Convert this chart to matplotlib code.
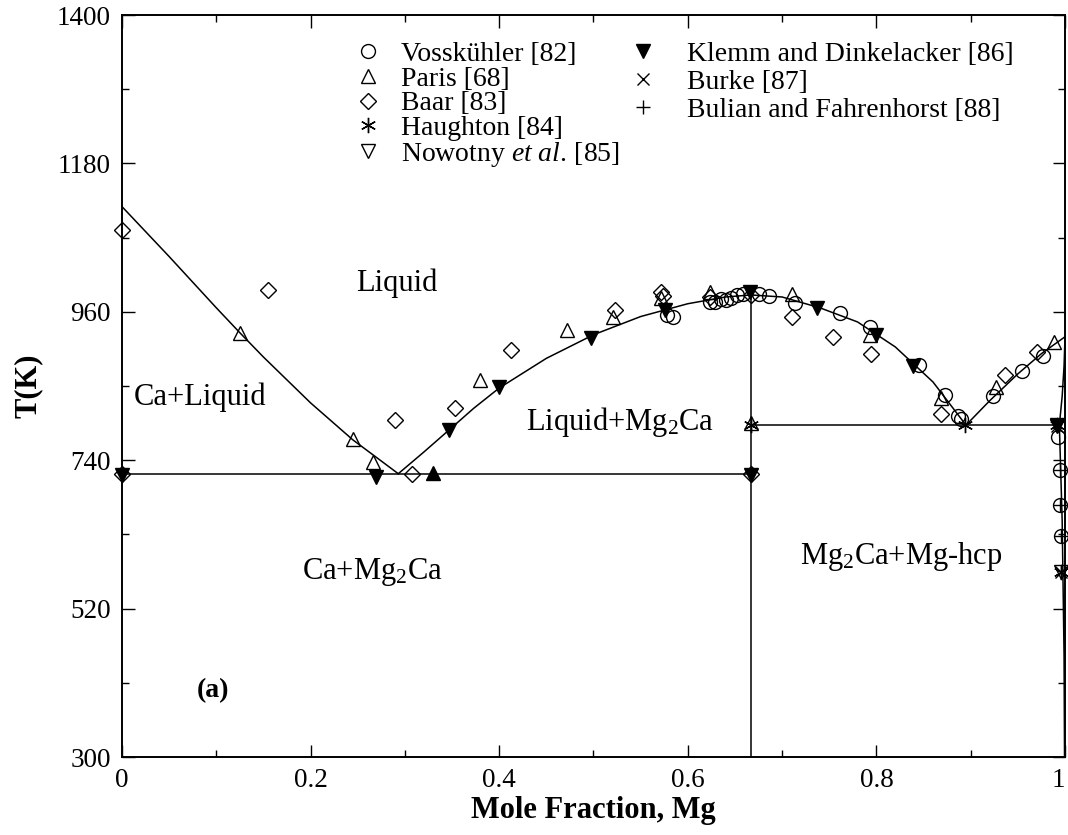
import numpy as np
import matplotlib
matplotlib.use("Agg")
import matplotlib.pyplot as plt

plt.rcParams["font.family"] = ["Liberation Serif", "DejaVu Serif"]
plt.rcParams["mathtext.fontset"] = "custom"
plt.rcParams["mathtext.rm"] = "Liberation Serif"
plt.rcParams["mathtext.it"] = "Liberation Serif:italic"
plt.rcParams["mathtext.bf"] = "Liberation Serif:bold"
plt.rcParams["mathtext.default"] = "regular"

# --- calculated phase boundaries (x_Mg, T in K) ---
liq_ca_x = [0.0, 0.05, 0.10, 0.125, 0.15, 0.20, 0.245, 0.27, 0.293]
liq_ca_t = [1116, 1042, 966, 929, 893, 825, 770, 744, 720]

liq_c14a_x = [0.293, 0.32, 0.347, 0.373, 0.40, 0.45, 0.50, 0.55, 0.60, 0.64, 0.667]
liq_c14a_t = [720, 752, 785, 817, 847, 891, 926, 953, 972, 982, 985]

liq_c14b_x = [0.667, 0.70, 0.74, 0.78, 0.82, 0.86, 0.895]
liq_c14b_t = [985, 982, 966, 945, 908, 856, 792]

liq_mg_x = [0.895, 0.92, 0.95, 0.975, 1.0]
liq_mg_t = [792, 828, 868, 898, 923]

eut1_x = [0.0, 0.667]
eut1_t = [720, 720]
c14_x = [0.667, 0.667]
c14_t = [300, 985]
eut2_x = [0.667, 0.994]
eut2_t = [792, 792]
sol_mg_x = [0.994, 0.997, 0.999, 1.0]
sol_mg_t = [792, 835, 880, 923]
solv_mg_x = [0.994, 0.997, 0.999, 0.9995]
solv_mg_t = [792, 650, 450, 300]

# --- experimental data ---
voss_x = [0.578, 0.584, 0.624, 0.629, 0.635, 0.641, 0.646, 0.652, 0.659, 0.676, 0.686,
          0.714, 0.761, 0.793, 0.845, 0.873, 0.887, 0.890, 0.924, 0.954, 0.977,
          0.993, 0.995, 0.995, 0.996]
voss_t = [955, 952, 975, 974, 979, 977, 980, 985, 986, 986, 984,
          973, 958, 937, 881, 837, 805, 801, 835, 872, 895,
          775, 725, 674, 627]

paris_x = [0.125, 0.245, 0.266, 0.380, 0.472, 0.521, 0.572, 0.624, 0.667, 0.711,
           0.793, 0.869, 0.927, 0.988]
paris_t = [928, 772, 738, 859, 933, 953, 980, 990, 795, 987,
           926, 832, 848, 915]

baar_x = [0.0, 0.155, 0.29, 0.308, 0.353, 0.413, 0.523, 0.572, 0.574, 0.624, 0.667,
          0.711, 0.754, 0.794, 0.869, 0.936, 0.970, 0.0, 0.667]
baar_t = [1081, 993, 800, 720, 817, 903, 962, 990, 983, 982, 985,
          953, 923, 898, 808, 866, 900, 720, 720]

haugh_x = [0.667, 0.894, 0.992, 0.996]
haugh_t = [792, 792, 792, 575]

nowo_x = [0.992, 0.996]
nowo_t = [790, 575]

klemm_x = [0.0, 0.269, 0.347, 0.400, 0.497, 0.576, 0.666, 0.667, 0.737, 0.800, 0.839, 0.992]
klemm_t = [718, 715, 785, 849, 921, 963, 990, 718, 965, 926, 879, 792]

klemm_up_x = [0.330]
klemm_up_t = [721]

burke_x = [0.992, 0.996]
burke_t = [790, 575]

bulian_x = [0.995, 0.995, 0.996]
bulian_t = [725, 674, 627]

x_major = [0.0, 0.2, 0.4, 0.6, 0.8, 1.0]
x_labels = ["0", "0.2", "0.4", "0.6", "0.8", "1"]
x_minor = [0.1, 0.3, 0.5, 0.7, 0.9]
y_major = np.arange(300, 1401, 220)
y_minor = np.arange(410, 1400, 220)

fig = plt.figure(figsize=(10.68, 8.35), dpi=100)
ax = fig.add_axes([0.1142, 0.0934, 0.8830, 0.8886])

line_kw = dict(color="black", lw=1.1)
for xs, ts in [(liq_ca_x, liq_ca_t), (liq_c14a_x, liq_c14a_t), (liq_c14b_x, liq_c14b_t),
               (liq_mg_x, liq_mg_t), (eut1_x, eut1_t), (c14_x, c14_t), (eut2_x, eut2_t),
               (sol_mg_x, sol_mg_t), (solv_mg_x, solv_mg_t)]:
    ax.plot(xs, ts, **line_kw)

open_kw = dict(ls="none", mfc="none", mec="black", mew=1.0, clip_on=False)
h_voss, = ax.plot(voss_x, voss_t, marker="o", ms=10, label="Vosskühler [82]", **open_kw)
h_paris, = ax.plot(paris_x, paris_t, marker="^", ms=10, label="Paris [68]", **open_kw)
h_baar, = ax.plot(baar_x, baar_t, marker="D", ms=8, label="Baar [83]", **open_kw)
h_haugh, = ax.plot(haugh_x, haugh_t, marker=(6, 2, 0), ms=11, ls="none", color="black",
                   mew=1.0, label="Haughton [84]", clip_on=False)
h_nowo, = ax.plot(nowo_x, nowo_t, marker="v", ms=10,
                  label="Nowotny $\\it{et\\ al.}\\,$[85]", **open_kw)
h_klemm, = ax.plot(klemm_x, klemm_t, marker="v", ms=10, ls="none", color="black",
                   label="Klemm and Dinkelacker [86]", clip_on=False)
ax.plot(klemm_up_x, klemm_up_t, marker="^", ms=10, ls="none", color="black")
h_burke, = ax.plot(burke_x, burke_t, marker="x", ms=9, ls="none", color="black",
                   mew=1.0, label="Burke [87]", clip_on=False)
h_bulian, = ax.plot(bulian_x, bulian_t, marker="+", ms=10, ls="none", color="black",
                    mew=1.0, label="Bulian and Fahrenhorst [88]", clip_on=False)

leg_kw = dict(loc="upper left", frameon=False, fontsize=20, borderpad=0,
              borderaxespad=0, handlelength=1.0)
leg1 = ax.legend(handles=[h_voss, h_paris, h_baar, h_haugh, h_nowo],
                 bbox_to_anchor=(0.246, 0.964), handletextpad=0.71,
                 labelspacing=-0.03, **leg_kw)
ax.add_artist(leg1)
ax.legend(handles=[h_klemm, h_burke, h_bulian],
          bbox_to_anchor=(0.538, 0.964), handletextpad=1.06,
          labelspacing=0.09, **leg_kw)

txt_kw = dict(fontsize=22, ha="center", va="center")
ax.text(0.291, 1002, "Liquid", **txt_kw)
ax.text(0.083, 834, "Ca+Liquid", **txt_kw)
ax.text(0.528, 797, "Liquid+Mg$_2$Ca", **txt_kw)
ax.text(0.266, 574, "Ca+Mg$_2$Ca", **txt_kw)
ax.text(0.826, 597, "Mg$_2$Ca+Mg-hcp", **txt_kw)
ax.text(0.097, 399, "(a)", fontsize=20, fontweight="bold", ha="center", va="center")

ax.set_xlim(0, 1)
ax.set_ylim(300, 1400)
ax.set_xticks(x_major, labels=x_labels)
ax.set_xticks(x_minor, minor=True)
ax.set_yticks(y_major)
ax.set_yticks(y_minor, minor=True)
ax.tick_params(which="both", direction="in", top=True, right=True, labelsize=19.5, width=1.0)
ax.tick_params(which="major", length=9, pad=8)
ax.tick_params(which="minor", length=5)
# keep the last x label inside the canvas
ax.get_xticklabels()[-1].set_horizontalalignment("right")
for s in ax.spines.values():
    s.set_linewidth(1.4)

ax.set_xlabel("Mole Fraction, Mg", fontsize=22, fontweight="bold", labelpad=2)
ax.set_ylabel("T(K)", fontsize=22, fontweight="bold", labelpad=10)

fig.savefig("out.png", dpi=100)
